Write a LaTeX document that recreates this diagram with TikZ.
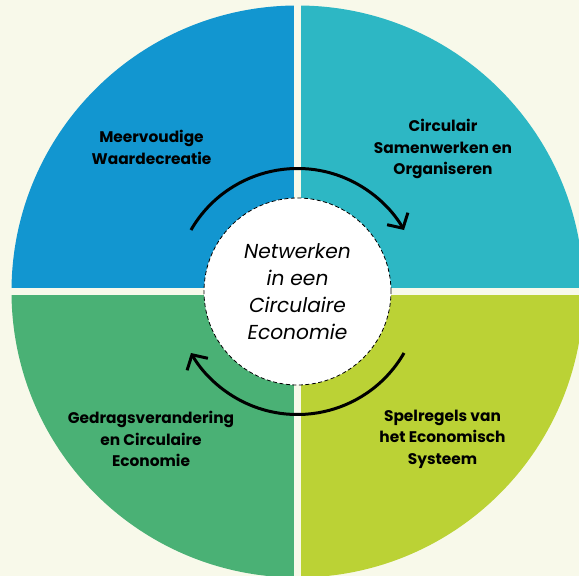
\documentclass[tikz,border=0pt]{standalone}
\usepackage{fontspec}
\setmainfont{Poppins}
\usetikzlibrary{arrows.meta}
\definecolor{paper}{RGB}{248,249,234}
\definecolor{quadblue}{RGB}{18,150,208}
\definecolor{quadteal}{RGB}{45,183,196}
\definecolor{quadgreen}{RGB}{74,177,117}
\definecolor{quadlime}{RGB}{187,210,53}
\tikzset{
  quadtext/.style={font=\bfseries\fontsize{15.4}{21.5}\selectfont, align=center, text=black},
  hubtext/.style={font=\itshape\fontsize{20.2}{27}\selectfont, align=center},
  turn/.style={line width=3pt, -{Straight Barb[length=11pt,width=24pt]}}
}
\begin{document}
\begin{tikzpicture}[x=1pt,y=1pt]
    \useasboundingbox[fill=paper] (-297.5,-284.5) rectangle (281.5,291.5);
    \def\wheel#1{\fill[#1] (0,0) circle (286)}
    \begin{scope}
        \clip (-300,0) rectangle (0,300);
        \wheel{quadblue};
    \end{scope}
    \begin{scope}
        \clip (0,0) rectangle (300,300);
        \wheel{quadteal};
    \end{scope}
    \begin{scope}
        \clip (-300,-300) rectangle (0,0);
        \wheel{quadgreen};
    \end{scope}
    \begin{scope}
        \clip (0,-300) rectangle (300,0);
        \wheel{quadlime};
    \end{scope}
    \draw[paper, line width=6.5pt] (-300,0) -- (300,0) (0,-300) -- (0,300);
    \node[circle, fill=white, draw, line width=0.8pt, dash pattern=on 4pt off 2.5pt,
          minimum size=187, inner sep=0pt, hubtext] (hub) at (0,0) {Netwerken\\in een\\Circulaire\\Economie};
    \node[quadtext] (value) at (-146,144) {Meervoudige\\Waardecreatie};
    \node[quadtext] (cooperate) at (145.5,142.5) {Circulair\\Samenwerken en\\Organiseren};
    \node[quadtext] (behaviour) at (-146.5,-147.5) {Gedragsverandering\\en Circulaire\\Economie};
    \node[quadtext] (rules) at (145,-147.5) {Spelregels van\\het Economisch\\Systeem};
    \draw[turn] (hub.center) ++(150:123) arc[start angle=150, end angle=30, radius=123];
    \draw[turn] (hub.center) ++(-30:123) arc[start angle=-30, end angle=-150, radius=123];
\end{tikzpicture}
\end{document}
